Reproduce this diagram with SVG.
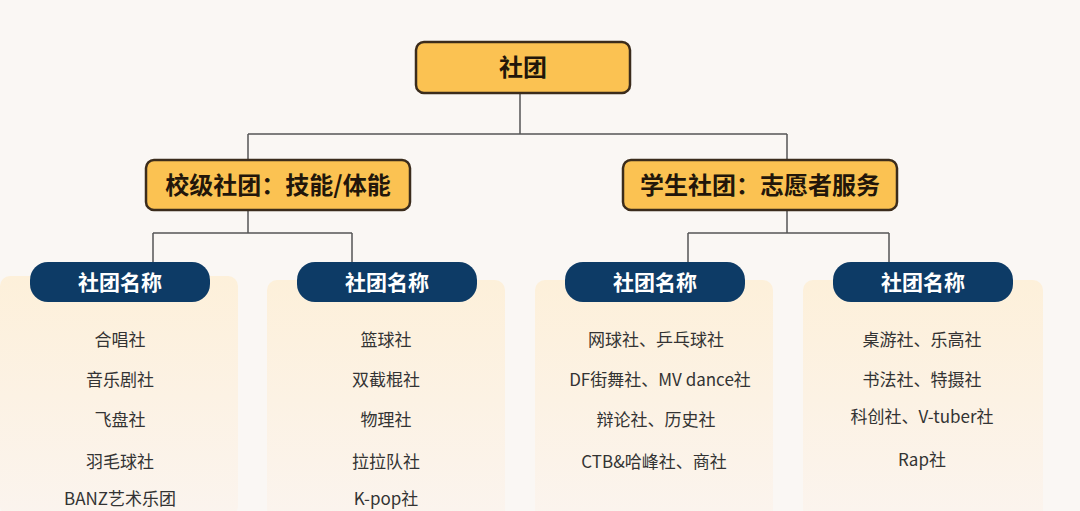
<svg xmlns="http://www.w3.org/2000/svg" width="1080" height="511" viewBox="0 0 1080 511">
<defs>
<style>
.y{fill:#fbc252;stroke:#3b2c1c;stroke-width:2.5}
.yt{font-family:"Noto Sans CJK SC",sans-serif;font-weight:bold;font-size:24px;fill:#22160a;text-anchor:middle}
.p{fill:#0d3b66}
.pt{font-family:"Noto Sans CJK SC",sans-serif;font-weight:bold;font-size:21px;fill:#fff;text-anchor:middle}
.it{font-family:"Noto Sans CJK SC",sans-serif;font-size:17px;fill:#333;text-anchor:middle}
.c{fill:none;stroke:#555;stroke-width:1.5}
</style>
<linearGradient id="g" x1="0" y1="0" x2="0" y2="1"><stop offset="0" stop-color="#fdf0da"/><stop offset="1" stop-color="#fbf4ee"/></linearGradient>
</defs>
<rect width="1080" height="511" fill="#faf7f4"/>
<rect x="0" y="276" width="238" height="240" rx="10" fill="url(#g)"/>
<rect x="267" y="280" width="238" height="240" rx="10" fill="url(#g)"/>
<rect x="535" y="280" width="238" height="240" rx="10" fill="url(#g)"/>
<rect x="803" y="280" width="240" height="240" rx="10" fill="url(#g)"/>
<g id="connectors">
<path class="c" d="M520 93V134M248 134H787M248 134V160M787 134V160"/>
<path class="c" d="M248 210V233M153 233H352M153 233V262M352 233V262"/>
<path class="c" d="M787 210V233M688 233H889M688 233V262M889 233V262"/>
</g>
<g id="root"><rect class="y" x="416" y="42" width="214" height="51" rx="8"/><text class="yt" x="523" y="76">社团</text></g>
<g id="school"><rect class="y" x="146" y="160" width="264" height="50" rx="8"/><text class="yt" x="278" y="194">校级社团：技能/体能</text></g>
<g id="student"><rect class="y" x="623" y="160" width="274" height="50" rx="8"/><text class="yt" x="760" y="194">学生社团：志愿者服务</text></g>
<g id="p1"><rect class="p" x="30" y="262" width="180" height="40" rx="18"/><text class="pt" x="120" y="290">社团名称</text>
<text class="it" x="120" y="346">合唱社</text><text class="it" x="120" y="386">音乐剧社</text><text class="it" x="120" y="426">飞盘社</text><text class="it" x="120" y="468">羽毛球社</text><text class="it" x="120" y="505">BANZ艺术乐团</text></g>
<g id="p2"><rect class="p" x="297" y="262" width="180" height="40" rx="18"/><text class="pt" x="387" y="290">社团名称</text>
<text class="it" x="386" y="346">篮球社</text><text class="it" x="386" y="386">双截棍社</text><text class="it" x="386" y="426">物理社</text><text class="it" x="386" y="468">拉拉队社</text><text class="it" x="386" y="505">K-pop社</text></g>
<g id="p3"><rect class="p" x="565" y="262" width="180" height="40" rx="18"/><text class="pt" x="655" y="290">社团名称</text>
<text class="it" x="656" y="346">网球社、乒乓球社</text><text class="it" x="660" y="386">DF街舞社、MV dance社</text><text class="it" x="656" y="426">辩论社、历史社</text><text class="it" x="654" y="468">CTB&amp;哈峰社、商社</text></g>
<g id="p4"><rect class="p" x="833" y="262" width="180" height="40" rx="18"/><text class="pt" x="923" y="290">社团名称</text>
<text class="it" x="922" y="346">桌游社、乐高社</text><text class="it" x="922" y="386">书法社、特摄社</text><text class="it" x="922" y="423">科创社、V-tuber社</text><text class="it" x="922" y="466">Rap社</text></g>
</svg>
